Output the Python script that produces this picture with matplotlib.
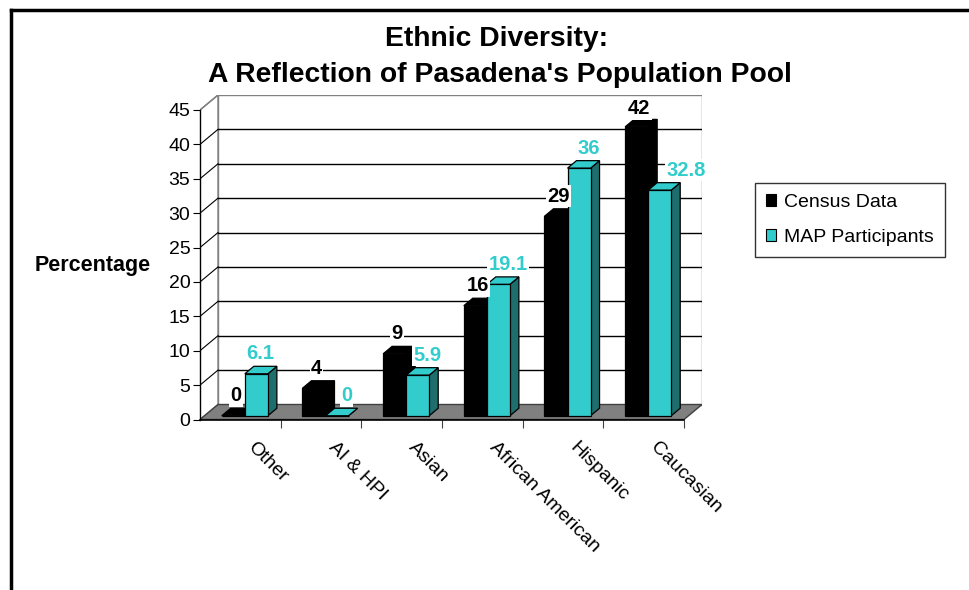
import matplotlib.pyplot as plt
import matplotlib.patches as mpatches
from matplotlib.lines import Line2D
import numpy as np

plt.rcParams['font.family'] = ['Liberation Sans', 'DejaVu Sans']

# data
categories = ['Other', 'AI & HPI', 'Asian', 'African American', 'Hispanic', 'Caucasian']
census = [0, 4, 9, 16, 29, 42]
map_participants = [6.1, 0, 5.9, 19.1, 36, 32.8]
series_names = ['Census Data', 'MAP Participants']
yticks = list(range(0, 50, 5))

# colours for the fake 3d look
front_cols = ['#000000', '#33CCCC']
side_cols = ['#000000', '#1E6E6E']
top_cols = ['#000000', '#33CCCC']
label_cols = ['#000000', '#33CCCC']
label_shift = [-2, 5]                  # px, per series (excel puts them a bit off centre)
label_nudge = {(1, 0): (-6, 0), (1, 5): (17, 0), (0, 5): (0, -2)}

n = len(categories)
ymax = yticks[-1]
ddx, ddy = 0.223, 2.18          # depth of the floor in data units
z0, z1 = 0.25, 0.75             # bars sit in the middle of the floor depth
w = 1 / 3.5                     # gap width 150%
gap = 0.75 * w

fig = plt.figure(figsize=(9.69, 5.9), dpi=100)
ax = fig.add_axes([200 / 969, 170.5 / 590, 502 / 969, 324.5 / 590])
ax.set_xlim(0, n + ddx)
ax.set_ylim(0, ymax + ddy)

# walls
back = mpatches.Rectangle((ddx, ddy), n, ymax, fc='white', ec='#808080', lw=1, zorder=0.5)
ax.add_patch(back)
side = mpatches.Polygon([(0, 0), (ddx, ddy), (ddx, ymax + ddy), (0, ymax)], closed=True,
                        fc='white', ec='#808080', lw=1, zorder=0.5)
ax.add_patch(side)
for v in yticks[1:-1]:
    ax.plot([ddx, n + ddx], [v + ddy, v + ddy], color='black', lw=1, zorder=0.6)
    ax.plot([0, ddx], [v, v + ddy], color='black', lw=0.8, zorder=0.6)
ax.plot([0, ddx], [ymax, ymax + ddy], color='#808080', lw=1, zorder=0.6)

# floor
floor = mpatches.Polygon([(0, 0), (n, 0), (n + ddx, ddy), (ddx, ddy)], closed=True,
                         fc='#808080', ec='#404040', lw=1, zorder=1)
ax.add_patch(floor)

# bars
z = 2
for i in range(n):
    for s, vals in enumerate([census, map_participants]):
        v = vals[i]
        x0 = i + gap + s * w
        fx0, fx1 = x0 + z0 * ddx, x0 + w + z0 * ddx
        bx0, bx1 = x0 + z1 * ddx, x0 + w + z1 * ddx
        y0, yb = z0 * ddy, z1 * ddy
        sideface = [(fx1, y0), (bx1, yb), (bx1, v + yb), (fx1, v + y0)]
        topface = [(fx0, v + y0), (fx1, v + y0), (bx1, v + yb), (bx0, v + yb)]
        frontface = [(fx0, y0), (fx1, y0), (fx1, v + y0), (fx0, v + y0)]
        for pts, col in [(sideface, side_cols[s]), (topface, top_cols[s]), (frontface, front_cols[s])]:
            ax.add_patch(mpatches.Polygon(pts, closed=True, fc=col, ec='black', lw=0.9, zorder=z))
            z += 0.01
        z += 0.1

# value labels
for i in range(n):
    for s, vals in enumerate([census, map_participants]):
        v = vals[i]
        xc = i + gap + s * w + w / 2 + 0.5 * ddx
        nx, ny = label_nudge.get((s, i), (0, 0))
        ax.annotate(f'{v:g}', xy=(xc, v + z0 * ddy + 2.9),
                    xytext=((label_shift[s] + nx) * 0.72, ny * 0.72), textcoords='offset points',
                    ha='center', va='center', fontsize=14.5, fontweight='bold',
                    color=label_cols[s], zorder=20,
                    bbox=dict(fc='white', ec='none', pad=1))

# axes
for sp in ['top', 'right']:
    ax.spines[sp].set_visible(False)
ax.spines['left'].set_bounds(0, ymax)
ax.spines['bottom'].set_bounds(0, n)
ax.spines['left'].set_linewidth(1)
ax.spines['bottom'].set_linewidth(1.2)
ax.set_yticks(yticks)
ax.set_xticks(np.arange(1, n + 1))
ax.set_xticklabels([])
ax.tick_params(axis='y', direction='out', length=5, labelsize=14, pad=2)
ax.tick_params(axis='x', direction='out', length=6, color='#404040')

for i, cat in enumerate(categories):
    ax.annotate(cat, xy=(i + 0.5, 0), xytext=(7, -18), textcoords='offset points',
                rotation=-45, rotation_mode='anchor', ha='left', va='center', fontsize=14)

# titles and labels
fig.text(497 / 969, 1 - 39 / 590, 'Ethnic Diversity:', ha='center', va='center',
         fontsize=20.3, fontweight='bold')
fig.text(500 / 969, 1 - 75 / 590, "A Reflection of Pasadena's Population Pool", ha='center',
         va='center', fontsize=20.3, fontweight='bold')
fig.text(35 / 969, 1 - 266 / 590, 'Percentage', ha='left', va='center', fontsize=15.5,
         fontweight='bold')

handles = [mpatches.Patch(fc=front_cols[k], ec='black', lw=0.8) for k in range(2)]
leg = fig.legend(handles, series_names, loc='upper left', bbox_to_anchor=(755 / 969, 1 - 183 / 590),
                 fontsize=14, frameon=True, fancybox=False, edgecolor='black',
                 handlelength=0.55, handleheight=0.55, handletextpad=0.4, labelspacing=0.95,
                 borderpad=0.55, borderaxespad=0)
leg.get_frame().set_linewidth(1)

# outer chart border (cropped at right and bottom)
fig.add_artist(Line2D([11 / 969, 11 / 969], [0, 1 - 10 / 590], color='black', lw=2.5,
                      transform=fig.transFigure))
fig.add_artist(Line2D([11 / 969, 1], [1 - 10 / 590, 1 - 10 / 590], color='black', lw=2.5,
                      transform=fig.transFigure))

fig.savefig('out.png', dpi=100)
